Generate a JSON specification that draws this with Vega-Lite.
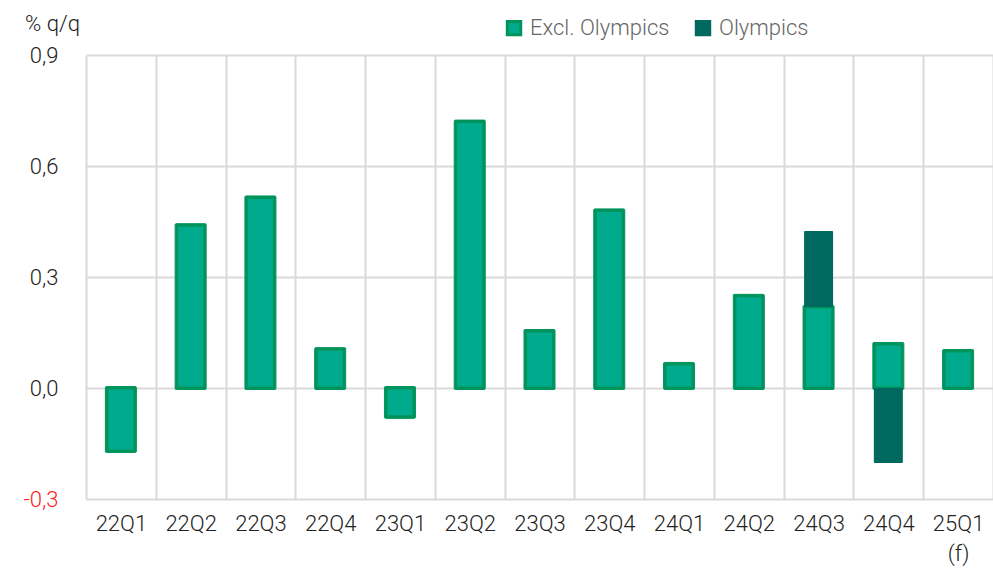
{
  "$schema": "https://vega.github.io/schema/vega-lite/v6.json",
  "width": 907,
  "height": 444,
  "autosize": {"type": "none"},
  "padding": {"left": 86, "top": 55, "right": 0, "bottom": 70},
  "background": "white",
  "config": {
    "view": {"stroke": null},
    "font": "Roboto"
  },
  "data": {
    "values": [
      {"q": "22Q1", "series": "Excl. Olympics", "ord": 1, "v": -0.17},
      {"q": "22Q2", "series": "Excl. Olympics", "ord": 1, "v": 0.44},
      {"q": "22Q3", "series": "Excl. Olympics", "ord": 1, "v": 0.515},
      {"q": "22Q4", "series": "Excl. Olympics", "ord": 1, "v": 0.105},
      {"q": "23Q1", "series": "Excl. Olympics", "ord": 1, "v": -0.078},
      {"q": "23Q2", "series": "Excl. Olympics", "ord": 1, "v": 0.72},
      {"q": "23Q3", "series": "Excl. Olympics", "ord": 1, "v": 0.154},
      {"q": "23Q4", "series": "Excl. Olympics", "ord": 1, "v": 0.48},
      {"q": "24Q1", "series": "Excl. Olympics", "ord": 1, "v": 0.065},
      {"q": "24Q2", "series": "Excl. Olympics", "ord": 1, "v": 0.249},
      {"q": "24Q3", "series": "Excl. Olympics", "ord": 1, "v": 0.219},
      {"q": "24Q4", "series": "Excl. Olympics", "ord": 1, "v": 0.119},
      {"q": "25Q1 (f)", "series": "Excl. Olympics", "ord": 1, "v": 0.10},
      {"q": "24Q3", "series": "Olympics", "ord": 2, "v": 0.205},
      {"q": "24Q4", "series": "Olympics", "ord": 2, "v": -0.203}
    ]
  },
  "transform": [
    {"stack": "v", "groupby": ["q"], "sort": [{"field": "ord", "order": "ascending"}], "as": ["v0", "v1"], "offset": "zero"}
  ],
  "encoding": {
    "x": {
      "field": "q",
      "type": "nominal",
      "sort": ["22Q1", "22Q2", "22Q3", "22Q4", "23Q1", "23Q2", "23Q3", "23Q4", "24Q1", "24Q2", "24Q3", "24Q4", "25Q1 (f)"],
      "scale": {"paddingInner": 0, "paddingOuter": 0},
      "axis": {
        "title": null,
        "labelAngle": 0,
        "labelFontSize": 22,
        "labelFontWeight": 300,
        "labelColor": "#222222",
        "labelPadding": 14,
        "labelLineHeight": 30,
        "labelBaseline": "top",
        "labelExpr": "datum.label == '25Q1 (f)' ? ['25Q1', '(f)'] : datum.label",
        "ticks": false,
        "domain": false,
        "grid": true,
        "tickBand": "extent",
        "gridColor": "#d9d9d9",
        "gridWidth": 2
      }
    },
    "y": {
      "field": "v1",
      "type": "quantitative",
      "scale": {"domain": [-0.3, 0.9], "nice": false, "zero": false},
      "axis": {
        "title": "% q/q",
        "titleAngle": 0,
        "titleAlign": "center",
        "titleBaseline": "middle",
        "titleX": -34,
        "titleY": -32,
        "titleFontSize": 22,
        "titleFontWeight": 300,
        "titleColor": "#222222",
        "values": [-0.3, 0, 0.3, 0.6, 0.9],
        "labelExpr": "datum.value < 0 ? '-' + replace(format(abs(datum.value), '.1f'), '.', ',') : replace(format(datum.value, '.1f'), '.', ',')",
        "labelColor": {"condition": {"test": "datum.value < 0", "value": "#ff2020"}, "value": "#222222"},
        "labelFontSize": 22,
        "labelFontWeight": 300,
        "labelPadding": 28,
        "ticks": false,
        "domain": false,
        "grid": true,
        "gridColor": "#d9d9d9",
        "gridWidth": 2
      }
    },
    "y2": {"field": "v0"}
  },
  "layer": [
    {
      "transform": [{"filter": "datum.series == 'Excl. Olympics'"}],
      "mark": {
        "type": "bar",
        "width": 31,
        "cornerRadius": 1,
        "fill": "#00935c",
        "yOffset": {"expr": "datum.v1 > datum.v0 ? -1.5 : 1.5"},
        "y2Offset": {"expr": "datum.v1 > datum.v0 ? 1.5 : -1.5"}
      },
      "encoding": {
        "stroke": {
          "field": "series",
          "type": "nominal",
          "scale": {"domain": ["Excl. Olympics", "Olympics"], "range": ["#00935c", "#00695f"]}
        }
      }
    },
    {
      "transform": [{"filter": "datum.series == 'Excl. Olympics'"}],
      "mark": {
        "type": "bar",
        "width": 25,
        "yOffset": {"expr": "datum.v1 > datum.v0 ? 1.5 : -1.5"},
        "y2Offset": {"expr": "datum.v1 > datum.v0 ? -1.5 : 1.5"}
      },
      "encoding": {
        "color": {
          "field": "series",
          "type": "nominal",
          "scale": {"domain": ["Excl. Olympics", "Olympics"], "range": ["#00aa8c", "#00695f"]},
          "legend": {
            "title": null,
            "orient": "none",
            "direction": "horizontal",
            "legendX": 417,
            "legendY": -38,
            "symbolType": "square",
            "symbolSize": 180,
            "symbolStrokeWidth": 3,
            "labelFontSize": 22,
            "labelFontWeight": 300,
            "labelColor": "#666666",
            "columnPadding": 20,
            "labelOffset": 5
          }
        }
      }
    },
    {
      "transform": [{"filter": "datum.series == 'Olympics'"}],
      "mark": {"type": "bar", "width": 29, "cornerRadius": 1},
      "encoding": {
        "color": {"field": "series", "type": "nominal"}
      }
    }
  ]
}
